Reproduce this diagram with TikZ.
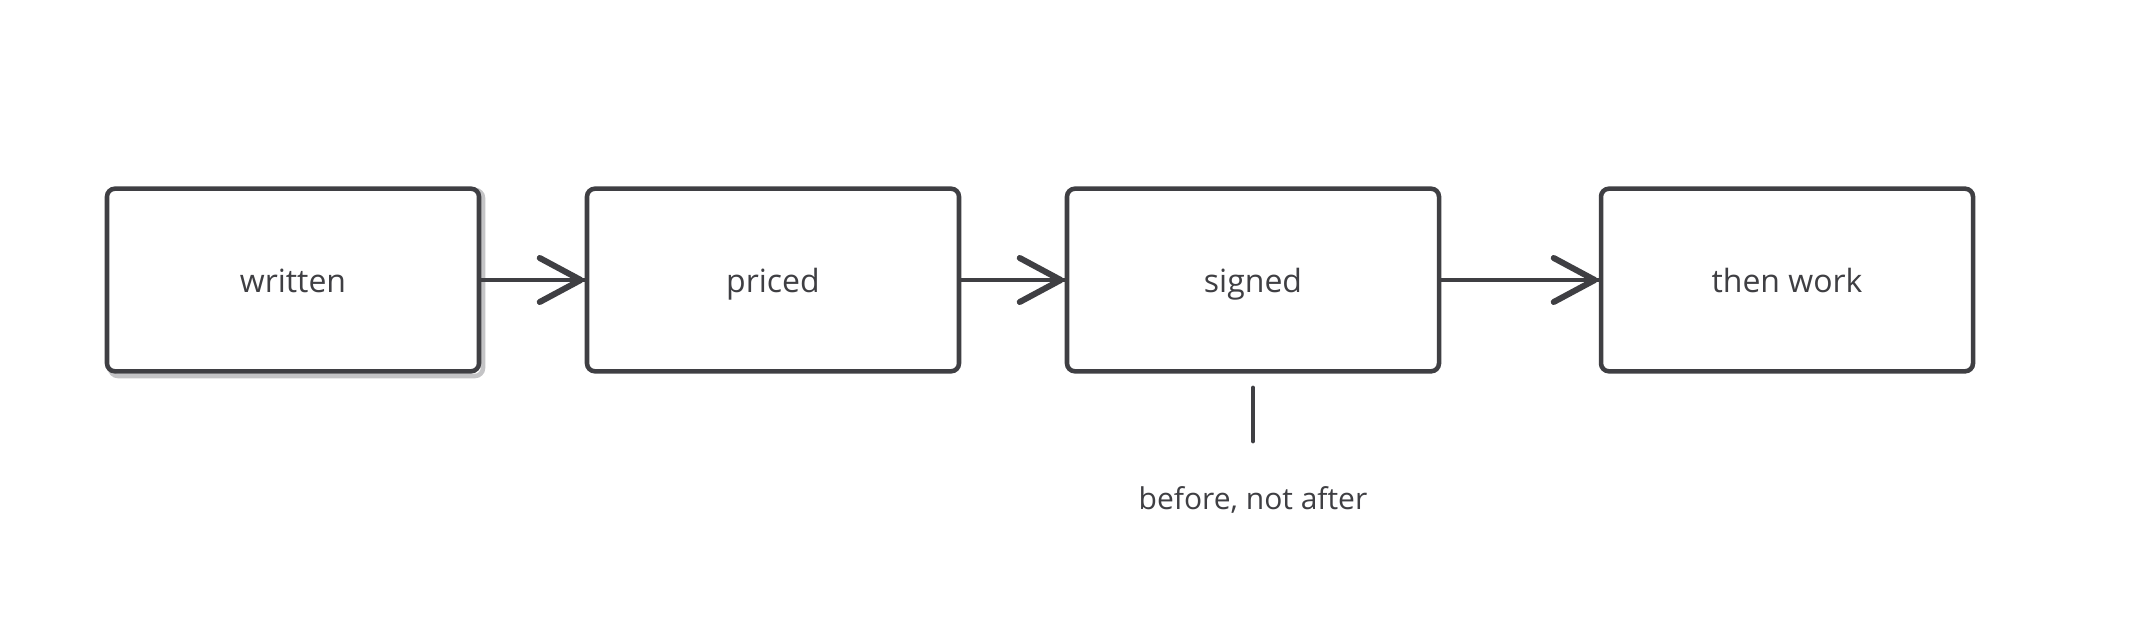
\documentclass[tikz,border=0pt]{standalone}
\usepackage{fontspec}
\setmainfont{Open Sans}
\definecolor{ink}{HTML}{3F3F43}
\definecolor{shadowgray}{HTML}{C4C4C6}
\begin{document}
\begin{tikzpicture}[x=0.75pt,y=-0.75pt,
  box/.style={draw=ink, line width=3.4pt, rounded corners=6pt, minimum width=279pt, minimum height=137pt, inner sep=0pt, text=ink, text height=18.5pt, text depth=0.4pt, font=\fontsize{24}{28}\selectfont},
  link/.style={draw=ink, line width=3pt},
  headstyle/.style={draw=ink, line width=4.5pt, line cap=round, line join=round},
  note/.style={text=ink, font=\fontsize{22.5}{26}\selectfont, inner sep=0pt}]
\useasboundingbox (0,0) rectangle (2133,627);
\fill[white] (0,0) rectangle (2133,627);
% shadow of first box
\draw[draw=shadowgray, line width=3.4pt, rounded corners=6pt] (110,190) rectangle (483,376);
\node[box, fill=white] (w) at (293,280) {written};
\node[box] (p) at (773,280) {priced};
\node[box] (s) at (1253,280) {signed};
\node[box] (t) at (1787,280) {then work};
\foreach \a/\b in {w/p, p/s, s/t}{
  \draw[link] (\a.east) -- (\b.west);
  \draw[headstyle] ([shift={(-45,-22)}]\b.west) -- ([shift={(-4,0)}]\b.west) -- ([shift={(-45,22)}]\b.west);
}
\coordinate (l1) at (1253,388);
\coordinate (l2) at (1253,441);
\draw[headstyle, line width=3.6pt] (l1) -- (l2);
\node[note] (n) at (1253,500) {before, not after};
\end{tikzpicture}
\end{document}
